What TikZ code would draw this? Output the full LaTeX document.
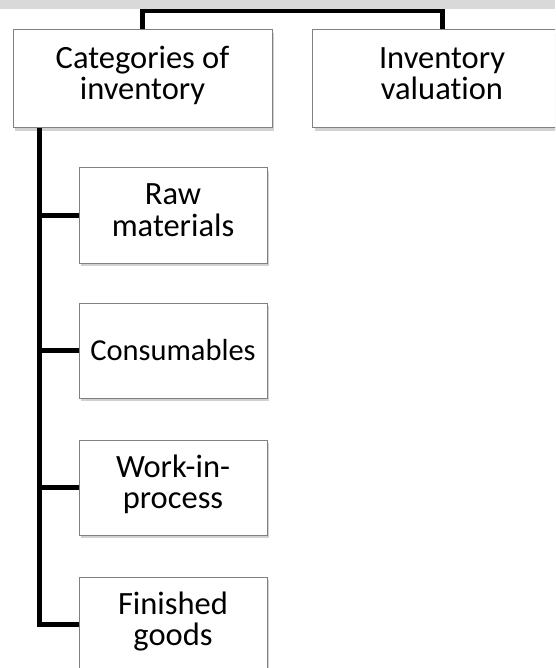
\documentclass[tikz,border=0pt]{standalone}
\usepackage{fontspec}
\setmainfont{Carlito}[Ligatures=NoCommon]
\usetikzlibrary{shadows}
\newcommand{\tstrut}{\rule{0pt}{22pt}}
\newcommand{\bstrut}{\rule[-12pt]{0pt}{12pt}}
\begin{document}
\begin{tikzpicture}[x=1pt,y=-1pt,
  box/.style={draw=black!50, line width=1pt, fill=white, inner sep=0pt, align=center,
    font=\fontsize{32.5}{31.5}\selectfont,
    drop shadow={shadow xshift=2pt, shadow yshift=-3pt, opacity=0.3, fill=black!60}},
  topbox/.style={box, minimum width=259pt, minimum height=98pt},
  subbox/.style={box, minimum width=188pt, minimum height=95pt},
  conn/.style={line width=5pt, black}]
\useasboundingbox (0,0) rectangle (555,668);
\begin{scope}
\clip (0,0) rectangle (555,668);
\node[topbox] (cat) at (142.5,79) {\tstrut Categories of\\inventory\bstrut};
\node[topbox] (val) at (442,79) {\tstrut Inventory\\valuation\bstrut};
\node[subbox] (raw) at (173,215.5) {\tstrut Raw\\materials\bstrut};
\node[subbox, text height=20.5pt, text depth=0pt, font=\fontsize{30.5}{31.5}\selectfont] (con) at (173,350.5) {Consumables};
\node[subbox] (wip) at (173,487.5) {\tstrut Work-in-\\process\bstrut};
\node[subbox] (fin) at (173,624.5) {\tstrut Finished\\goods\bstrut};
\coordinate (t) at (39,0);
\coordinate (h) at (0,11);
\draw[conn] (cat.north) -- (cat.north |- h) -- (val.north |- h) -- (val.north);
\draw[conn] (cat.south -| t) |- (fin.west);
\draw[conn] (t |- raw.west) -- (raw.west);
\draw[conn] (t |- con.west) -- (con.west);
\draw[conn] (t |- wip.west) -- (wip.west);
\fill[black!15] (0,0) rectangle (555,9);
\end{scope}
\end{tikzpicture}
\end{document}
